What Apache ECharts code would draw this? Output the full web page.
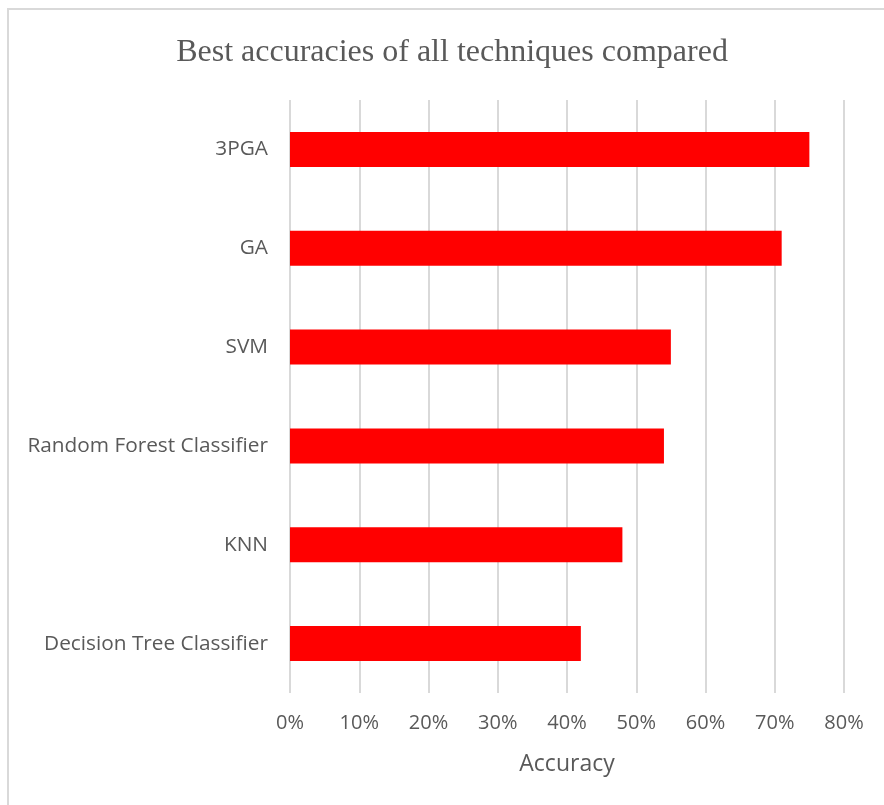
<!DOCTYPE html>
<html>
<head>
<meta charset="utf-8">
<script src="https://cdn.jsdelivr.net/npm/echarts@6/dist/echarts.min.js"></script>
<style>
html,body{margin:0;padding:0;background:#fff;}
#main{width:884px;height:805px;}
</style>
</head>
<body>
<div id="main"></div>
<script>
const categories = ["Decision Tree Classifier", "KNN", "Random Forest Classifier", "SVM", "GA", "3PGA"];
const accuracy = [0.42, 0.48, 0.54, 0.55, 0.71, 0.75];
const tickMin = 0, tickMax = 0.8, tickStep = 0.1;

const chart = echarts.init(document.getElementById('main'), null, {renderer: 'canvas'});
chart.setOption({
  animation: false,
  backgroundColor: '#ffffff',
  title: {
    text: 'Best accuracies of all techniques compared',
    left: 447, top: 32, textAlign: 'center',
    textStyle: {fontFamily: '"Liberation Serif", "Times New Roman", serif', fontSize: 32, fontWeight: 'normal', color: '#595959'}
  },
  graphic: [{
    type: 'rect', shape: {x: 8, y: 9, width: 900, height: 820},
    style: {fill: 'none', stroke: '#d9d9d9', lineWidth: 2}, silent: true
  }],
  grid: {left: 290, right: 40, top: 100, bottom: 112, containLabel: false},
  xAxis: {
    type: 'value', min: tickMin, max: tickMax, interval: tickStep,
    name: 'Accuracy', nameLocation: 'middle', nameGap: 60,
    nameTextStyle: {fontFamily: '"Open Sans", sans-serif', fontSize: 23, color: '#595959'},
    axisLine: {show: false}, axisTick: {show: false},
    axisLabel: {formatter: v => Math.round(v * 100) + '%', margin: 20,
      fontFamily: '"Open Sans", sans-serif', fontSize: 20, color: '#595959'},
    splitLine: {show: true, lineStyle: {color: '#d9d9d9', width: 2}}
  },
  yAxis: {
    type: 'category', data: categories,
    axisLine: {show: false}, axisTick: {show: false},
    axisLabel: {margin: 22, fontFamily: '"Open Sans", sans-serif', fontSize: 20.8, color: '#595959'}
  },
  series: [{
    type: 'bar', data: accuracy, barWidth: 35,
    itemStyle: {color: '#ff0000'}
  }]
});
</script>
</body>
</html>
